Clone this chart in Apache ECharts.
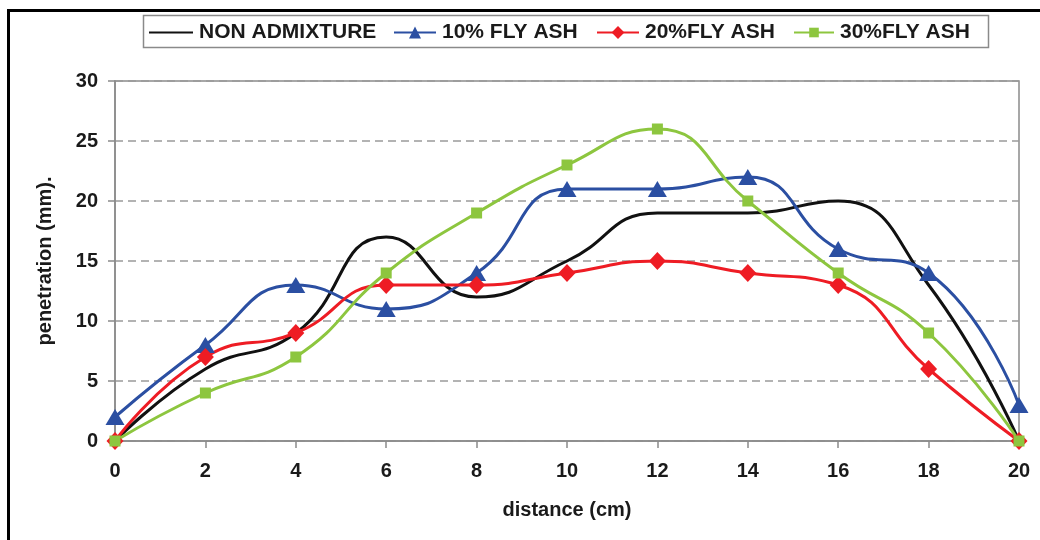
<!DOCTYPE html>
<html>
<head>
<meta charset="utf-8">
<script src="https://cdn.jsdelivr.net/npm/echarts@6/dist/echarts.min.js"></script>
<style>
html,body{margin:0;padding:0;background:#fff;}
#c{width:1040px;height:540px;}
</style>
</head>
<body>
<div id="c"></div>
<script>
var distance = [0, 2, 4, 6, 8, 10, 12, 14, 16, 18, 20];
var nonAdmixture = [0, 6, 9, 17, 12, 15, 19, 19, 20, 13, 0];
var flyAsh10 = [2, 8, 13, 11, 14, 21, 21, 22, 16, 14, 3];
var flyAsh20 = [0, 7, 9, 13, 13, 14, 15, 14, 13, 6, 0];
var flyAsh30 = [0, 4, 7, 14, 19, 23, 26, 20, 14, 9, 0];
var seriesNames = ['NON ADMIXTURE', '10% FLY ASH', '20%FLY ASH', '30%FLY ASH'];
var xTicks = { min: 0, max: 20, interval: 2 };
var yTicks = { min: 0, max: 30, interval: 5 };

function pairs(ys) { return distance.map(function (x, i) { return [x, ys[i]]; }); }

var FONT = '"Liberation Sans", Arial, sans-serif';
var TXT = '#1a1a1a';
var colors = ['#111111', '#2B4FA2', '#EE1C24', '#8DC63F'];

function legendAt(left, name, w, h, hideSymbol) {
  var l = {
    data: [name], left: left, top: 22, padding: 0,
    itemWidth: w, itemHeight: h, itemGap: 0,
    textStyle: { fontFamily: FONT, fontWeight: 'bold', fontSize: 21, color: TXT, padding: [0, 0, 0, 1] }
  };
  if (hideSymbol) { l.itemStyle = { opacity: 0 }; }
  return l;
}

var chart = echarts.init(document.getElementById('c'), null, { renderer: 'canvas' });
chart.setOption({
  animation: false,
  backgroundColor: '#fff',
  graphic: [
    { type: 'rect', shape: { x: 8.5, y: 10.5, width: 1100, height: 600 }, style: { fill: 'none', stroke: '#000', lineWidth: 3 }, z: 100 },
    { type: 'rect', shape: { x: 143.5, y: 15.5, width: 845, height: 32 }, style: { fill: 'none', stroke: '#8a8a8a', lineWidth: 1.5 }, z: 100 }
  ],
  legend: [
    legendAt(148, seriesNames[0], 44, 14, true),
    legendAt(393, seriesNames[1], 42, 15, false),
    legendAt(596, seriesNames[2], 42, 16, false),
    legendAt(793, seriesNames[3], 40, 12, false)
  ],
  grid: { left: 115, right: 21, top: 81, bottom: 99, show: true, borderColor: '#8a8a8a', borderWidth: 1.5 },
  xAxis: {
    type: 'value', min: xTicks.min, max: xTicks.max, interval: xTicks.interval,
    name: 'distance (cm)', nameLocation: 'middle', nameGap: 59,
    nameTextStyle: { fontFamily: FONT, fontWeight: 'bold', fontSize: 20, color: TXT },
    axisLine: { lineStyle: { color: '#8a8a8a', width: 1.5 } },
    axisTick: { show: true, length: 7, lineStyle: { color: '#8a8a8a', width: 1.5 } },
    axisLabel: { margin: 20, fontFamily: FONT, fontWeight: 'bold', fontSize: 20, color: TXT },
    splitLine: { show: false }
  },
  yAxis: {
    type: 'value', min: yTicks.min, max: yTicks.max, interval: yTicks.interval,
    name: 'penetration (mm).', nameLocation: 'middle', nameGap: 60,
    nameTextStyle: { fontFamily: FONT, fontWeight: 'bold', fontSize: 20, color: TXT },
    axisLine: { show: true, lineStyle: { color: '#8a8a8a', width: 1.5 } },
    axisTick: { show: true, length: 7, lineStyle: { color: '#8a8a8a', width: 1.5 } },
    axisLabel: { margin: 17, fontFamily: FONT, fontWeight: 'bold', fontSize: 20, color: TXT },
    splitLine: { show: true, lineStyle: { color: '#9a9a9a', width: 1.5, type: [8, 5] } }
  },
  series: [
    { name: seriesNames[0], type: 'line', data: pairs(nonAdmixture), smooth: 0.5, symbol: 'none',
      lineStyle: { color: colors[0], width: 3 }, itemStyle: { color: colors[0] } },
    { name: seriesNames[1], type: 'line', data: pairs(flyAsh10), smooth: 0.5, symbol: 'triangle', symbolSize: [19, 16],
      lineStyle: { color: colors[1], width: 3 }, itemStyle: { color: colors[1] } },
    { name: seriesNames[2], type: 'line', data: pairs(flyAsh20), smooth: 0.5, symbol: 'diamond', symbolSize: [17, 18],
      lineStyle: { color: colors[2], width: 3 }, itemStyle: { color: colors[2] } },
    { name: seriesNames[3], type: 'line', data: pairs(flyAsh30), smooth: 0.5, symbol: 'rect', symbolSize: 11,
      lineStyle: { color: colors[3], width: 3 }, itemStyle: { color: colors[3] } }
  ]
});
</script>
</body>
</html>
